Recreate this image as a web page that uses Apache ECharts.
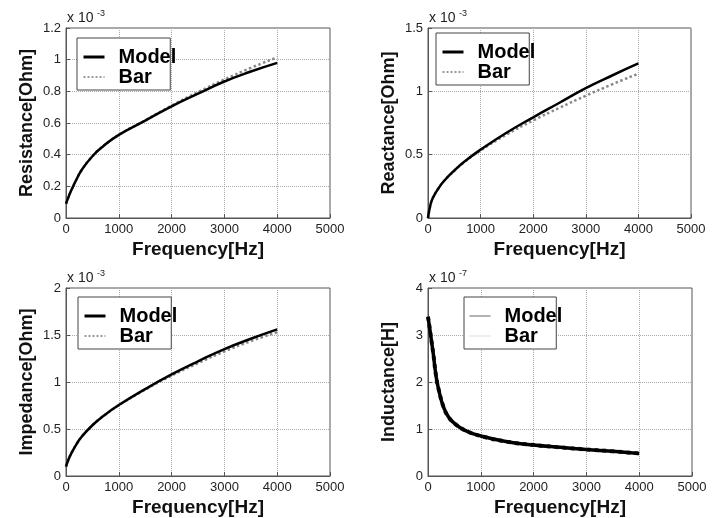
<!DOCTYPE html>
<html>
<head>
<meta charset="utf-8">
<script src="https://cdn.jsdelivr.net/npm/echarts@6/dist/echarts.min.js"></script>
<style>html,body{margin:0;padding:0;background:#fff;}#c{width:722px;height:518px;}</style>
</head>
<body>
<div id="c"></div>
<script>
// Frequencies (Hz)
var freq = [0, 50, 100, 200, 300, 500, 700, 1000, 1500, 2000, 2500, 3000, 3500, 4000];
var freqL = [0, 25, 50, 100, 150, 200, 300, 400, 500, 700, 1000, 1500, 2000, 2500, 3000, 3500, 4000];

// Resistance (x1e-3 Ohm)
var resModel = [0.09, 0.135, 0.175, 0.245, 0.305, 0.39, 0.452, 0.525, 0.615, 0.705, 0.785, 0.862, 0.925, 0.98];
var resBar   = [0.09, 0.135, 0.175, 0.245, 0.305, 0.39, 0.452, 0.525, 0.617, 0.71, 0.795, 0.875, 0.948, 1.015];
// Reactance (x1e-3 Ohm)
var reaModel = [0, 0.11, 0.165, 0.235, 0.29, 0.375, 0.448, 0.54, 0.675, 0.795, 0.91, 1.025, 1.125, 1.22];
var reaBar   = [0, 0.11, 0.165, 0.235, 0.29, 0.372, 0.444, 0.533, 0.66, 0.77, 0.87, 0.965, 1.055, 1.14];
// Impedance (x1e-3 Ohm)
var impModel = [0.1, 0.18, 0.24, 0.34, 0.42, 0.54, 0.635, 0.755, 0.925, 1.08, 1.22, 1.35, 1.46, 1.56];
var impBar   = [0.1, 0.18, 0.24, 0.34, 0.42, 0.54, 0.635, 0.752, 0.918, 1.068, 1.2, 1.325, 1.435, 1.53];
// Inductance (x1e-7 H)
var indModel = [3.39, 3.2, 3.0, 2.6, 2.15, 1.85, 1.45, 1.24, 1.12, 0.97, 0.85, 0.73, 0.66, 0.61, 0.565, 0.525, 0.48];
var indBar   = [3.39, 3.2, 3.0, 2.6, 2.15, 1.85, 1.45, 1.24, 1.12, 0.97, 0.85, 0.73, 0.66, 0.61, 0.565, 0.525, 0.48];

var panels = [
  {name:'Resistance[Ohm]', key:'R', x:freq,  m:resModel, b:resBar, ymax:1.2, yint:0.2, exp:'-3', grid:{left:66, top:28, width:264, height:190}, leg:{left:77, top:38}},
  {name:'Reactance[Ohm]',  key:'X', x:freq,  m:reaModel, b:reaBar, ymax:1.5, yint:0.5, exp:'-3', grid:{left:428, top:28, width:263, height:190}, leg:{left:436, top:33}},
  {name:'Impedance[Ohm]',  key:'Z', x:freq,  m:impModel, b:impBar, ymax:2,   yint:0.5, exp:'-3', grid:{left:66, top:288, width:264, height:190}, leg:{left:78, top:297}},
  {name:'Inductance[H]',   key:'L', x:freqL, m:indModel, b:indBar, ymax:4,   yint:1,   exp:'-7', grid:{left:428, top:288, width:264, height:190}, leg:{left:464, top:297}}
];

var FONT = '"Liberation Sans", Arial, sans-serif';
function pairs(xs, ys){ return xs.map(function(x,i){ return [x, ys[i]]; }); }
function plain(v){ return String(v); }

var grids=[], xAxes=[], yAxes=[], series=[], legends=[], graphics=[];
var hidden = {opacity:0, color:'rgba(0,0,0,0)', borderWidth:0};
panels.forEach(function(p, i){
  grids.push(Object.assign({show:true, borderColor:'#555', borderWidth:1, backgroundColor:'#fff'}, p.grid));
  xAxes.push({type:'value', gridIndex:i, min:0, max:5000, interval:1000,
    name:'Frequency[Hz]', nameLocation:'middle', nameGap:22,
    nameTextStyle:{fontFamily:FONT, fontWeight:'bold', fontSize:19, color:'#111'},
    axisLine:{show:true, lineStyle:{color:'#555'}}, axisTick:{show:true, inside:true, length:4, lineStyle:{color:'#555'}},
    axisLabel:{fontFamily:FONT, fontSize:13, color:'#222', margin:5, formatter:plain},
    splitLine:{show:true, lineStyle:{type:'dotted', color:'#aaa'}}});
  yAxes.push({type:'value', gridIndex:i, min:0, max:p.ymax, interval:p.yint,
    name:p.name, nameLocation:'middle', nameGap:30,
    nameTextStyle:{fontFamily:FONT, fontWeight:'bold', fontSize:18, color:'#111'},
    axisLine:{show:true, lineStyle:{color:'#555'}}, axisTick:{show:true, inside:true, length:4, lineStyle:{color:'#555'}},
    axisLabel:{fontFamily:FONT, fontSize:13, color:'#222', margin:5, formatter:plain},
    splitLine:{show:true, lineStyle:{type:'dotted', color:'#aaa'}}});
  var thick = (p.key === 'L');
  series.push({name:'Model|'+p.key, type:'line', xAxisIndex:i, yAxisIndex:i, data:pairs(p.x, p.m),
    symbol:'none', smooth:0.5, z:3,
    lineStyle:{color:'#000', width: thick ? 3.5 : 2.5, type:'solid'}, itemStyle:{color:'#000'}});
  series.push({name:'Bar|'+p.key, type:'line', xAxisIndex:i, yAxisIndex:i, data:pairs(p.x, p.b),
    symbol:'none', smooth:0.5, z:2,
    lineStyle:{color: thick ? '#333' : '#888', width: thick ? 4 : 2.5, type:'dotted'}, itemStyle:{color:'#888'}});
  legends.push({orient:'vertical', left:p.leg.left, top:p.leg.top,
    data:[
      {name:'Model|'+p.key, itemStyle:hidden, lineStyle: thick ? {width:1, color:'#666', type:'solid'} : {width:3, color:'#000', type:'solid'}},
      {name:'Bar|'+p.key, itemStyle:hidden, lineStyle: thick ? {width:1, color:'#bbb', type:'dotted'} : {width:2, color:'#999', type:'dotted'}}
    ],
    formatter:function(n){ return n.split('|')[0]; },
    selectedMode:false, itemWidth:21, itemHeight:14, itemGap:0,
    backgroundColor:'#fff', borderColor:'#444', borderWidth:1, padding:[9,-6,3,5],
    textStyle:{fontFamily:FONT, fontWeight:'bold', fontSize:20, color:'#000', lineHeight:20, padding:[0,0,0,9]}});
  graphics.push({type:'text', left:p.grid.left+1, top:p.grid.top-17,
    style:{text:'x 10', font:'14px '+FONT, fill:'#222'}});
  graphics.push({type:'text', left:p.grid.left+31, top:p.grid.top-19,
    style:{text:p.exp, font:'9px '+FONT, fill:'#222'}});
});

var chart = echarts.init(document.getElementById('c'), null, {renderer:'canvas'});
chart.setOption({
  animation:false, backgroundColor:'#fff',
  grid:grids, xAxis:xAxes, yAxis:yAxes, series:series, legend:legends, graphic:graphics
});
</script>
</body>
</html>
